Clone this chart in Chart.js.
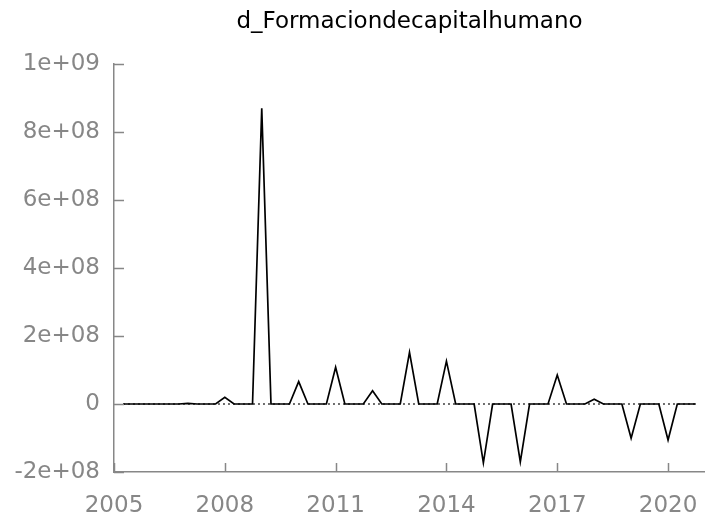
<!DOCTYPE html>
<html>
<head>
<meta charset="utf-8">
<script src="https://cdn.jsdelivr.net/npm/chart.js@4"></script>
<style>
  html, body { margin: 0; padding: 0; background: #fff; }
  #wrap { width: 705px; height: 522px; }
</style>
</head>
<body>
<div id="wrap"><canvas id="chart" width="705" height="522"></canvas></div>
<script>
// quarterly observations (first difference, so 2005:1 is lost)
const quarters = [
  "2005:2", "2005:3", "2005:4",
  "2006:1", "2006:2", "2006:3", "2006:4",
  "2007:1", "2007:2", "2007:3", "2007:4",
  "2008:1", "2008:2", "2008:3", "2008:4",
  "2009:1", "2009:2", "2009:3", "2009:4",
  "2010:1", "2010:2", "2010:3", "2010:4",
  "2011:1", "2011:2", "2011:3", "2011:4",
  "2012:1", "2012:2", "2012:3", "2012:4",
  "2013:1", "2013:2", "2013:3", "2013:4",
  "2014:1", "2014:2", "2014:3", "2014:4",
  "2015:1", "2015:2", "2015:3", "2015:4",
  "2016:1", "2016:2", "2016:3", "2016:4",
  "2017:1", "2017:2", "2017:3", "2017:4",
  "2018:1", "2018:2", "2018:3", "2018:4",
  "2019:1", "2019:2", "2019:3", "2019:4",
  "2020:1", "2020:2", "2020:3", "2020:4"
];

const dFormacion = [
  0, 0, 0,
  0, 0, 0, 0,
  2e6, 0, 0, 0,
  2.0e7, 0, 0, 0,
  8.7e8, 0, 0, 0,
  6.6e7, 0, 0, 0,
  1.08e8, 0, 0, 0,
  3.9e7, 0, 0, 0,
  1.52e8, 0, 0, 0,
  1.26e8, 0, 0, 0,
  -1.73e8, 0, 0, 0,
  -1.70e8, 0, 0, 0,
  8.5e7, 0, 0, 0,
  1.4e7, 0, 0, 0,
  -1.01e8, 0, 0, 0,
  -1.06e8, 0, 0, 0
];

const xTicks = [2005, 2008, 2011, 2014, 2017, 2020];
const yTicks = [-2e8, 0, 2e8, 4e8, 6e8, 8e8, 1e9];
const yTickLabels = ["-2e+08", "0", "2e+08", "4e+08", "6e+08", "8e+08", "1e+09"];

const title = "d_Formaciondecapitalhumano";

// "2009:1" -> 2009.00, "2009:2" -> 2009.25 ...
const toYear = q => {
    const [y, p] = q.split(":").map(Number);
    return y + (p - 1) / 4;
};

const points = quarters.map((q, i) => ({ x: toYear(q), y: dFormacion[i] }));
const zeroLine = [
    { x: toYear(quarters[0]), y: 0 },
    { x: toYear(quarters[quarters.length - 1]), y: 0 }
];

const AXIS_GREY = "#878787";

// gnuplot-style ticks pointing into the plot
const innerTicks = {
    id: "innerTicks",
    afterDraw(chart) {
        const { ctx, chartArea, scales } = chart;
        ctx.save();
        ctx.strokeStyle = AXIS_GREY;
        ctx.lineWidth = 1.5;
        ctx.beginPath();
        scales.y.ticks.forEach(t => {
            const py = Math.round(scales.y.getPixelForValue(t.value)) + 0.5;
            ctx.moveTo(chartArea.left, py);
            ctx.lineTo(chartArea.left + 10, py);
        });
        scales.x.ticks.forEach(t => {
            const px = Math.round(scales.x.getPixelForValue(t.value)) + 0.5;
            ctx.moveTo(px, chartArea.bottom);
            ctx.lineTo(px, chartArea.bottom - 9);
        });
        ctx.stroke();
        ctx.restore();
    }
};

new Chart(document.getElementById("chart"), {
    type: "line",
    data: {
        datasets: [
            {
                data: zeroLine,
                borderColor: "#000",
                borderWidth: 1.3,
                borderDash: [1.5, 3.5],
                pointRadius: 0,
                order: 2
            },
            {
                data: points,
                borderColor: "#000",
                borderWidth: 1.7,
                pointRadius: 0,
                tension: 0,
                order: 1
            }
        ]
    },
    options: {
        responsive: false,
        animation: false,
        layout: { padding: 0 },
        plugins: {
            legend: { display: false },
            tooltip: { enabled: false },
            title: {
                display: true,
                text: title,
                fullSize: false,
                color: "#000",
                font: { family: "DejaVu Sans", size: 23, weight: "normal" },
                padding: { top: 8, bottom: 28.4 }
            }
        },
        scales: {
            x: {
                type: "linear",
                min: 2005,
                max: 2021,
                afterBuildTicks: s => { s.ticks = xTicks.map(v => ({ value: v })); },
                afterFit: s => {
                    s.height = 50;
                    s.paddingLeft = 0;
                    s.paddingRight = 0;
                },
                grid: { display: false, drawTicks: false },
                border: { color: AXIS_GREY, width: 1.5 },
                ticks: {
                    color: AXIS_GREY,
                    padding: 20,
                    maxRotation: 0,
                    font: { family: "DejaVu Sans", size: 23 },
                    callback: v => String(v)
                }
            },
            y: {
                min: -2e8,
                max: 1e9,
                afterBuildTicks: s => { s.ticks = yTicks.map(v => ({ value: v })); },
                afterFit: s => { s.width = 114; },
                grid: { display: false, drawTicks: false },
                border: { color: AXIS_GREY, width: 1.5 },
                ticks: {
                    color: AXIS_GREY,
                    padding: 14,
                    font: { family: "DejaVu Sans", size: 23 },
                    callback: (v, i) => yTickLabels[i]
                }
            }
        }
    },
    plugins: [innerTicks]
});
</script>
</body>
</html>
